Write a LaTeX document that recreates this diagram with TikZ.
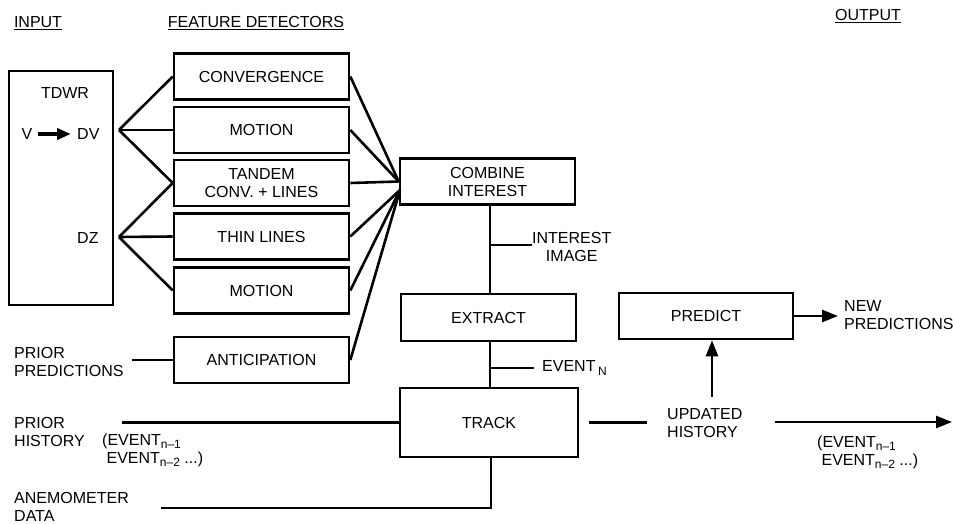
\documentclass[tikz,border=0pt]{standalone}
\usepackage{fontspec}
\setmainfont{Liberation Sans}
\usetikzlibrary{arrows.meta}
\newcommand{\evsub}[1]{\raisebox{-3.5pt}{\fontsize{12}{12}\selectfont #1}}

\begin{document}
\begin{tikzpicture}[x=1pt,y=-1pt,
		every node/.style={font=\fontsize{16}{18}\selectfont},
		blk/.style={draw,line width=2.6pt,minimum width=175pt,minimum height=46pt,align=center,inner sep=0pt},
		txt/.style={inner sep=0pt,align=left},
		wire/.style={line width=2.6pt},
		arr/.style={line width=2.6pt,-{Triangle[length=16pt,width=12pt]}}]
		\useasboundingbox (0,0) rectangle (953,524);
		% headings
		\node (hin) at (38,23) {\underline{INPUT}};
		\node (hfeat) at (256,23) {\underline{FEATURE DETECTORS}};
		\node (hout) at (868,16) {\underline{OUTPUT}};
		%
		\node[draw,line width=2.6pt,minimum width=104pt,minimum height=234pt] (tdwr) at (61,188) {};
		\node[txt] (tdwrlbl) at (65,93) {TDWR};
		\node[txt] (v) at (27,134) {V};
		\node[txt,anchor=west] (dv) at (77,134) {DV};
		\node[txt,anchor=west] (dz) at (77,238) {DZ};
		\draw [line width=3.5pt,-{Triangle[length=14pt,width=11pt]},shorten <=5pt,shorten >=6pt] (v.east) to (dv.west);
		\coordinate (fv) at (119,130);
		\coordinate (fz) at (119,237);
		%
		\node[blk] (conv) at (261.5,76.5) {CONVERGENCE};
		\node[blk] (motA) at (261.5,130) {MOTION};
		\node[blk] (tandem) at (261.5,183) {TANDEM\\CONV. + LINES};
		\node[blk] (thin) at (261.5,236.5) {THIN LINES};
		\node[blk] (motB) at (261.5,290.5) {MOTION};
		\node[blk] (antic) at (261.5,360) {ANTICIPATION};
		%
		\draw [wire] (fv) to (conv.west);
		\draw [wire] (fv) to (motA.west);
		\draw [wire] (fv) to (tandem.west);
		\draw [wire] (fz) to (tandem.west);
		\draw [wire] (fz) to (thin.west);
		\draw [wire] (fz) to (motB.west);
		%
		\node[txt,anchor=west] (ppred) at (14,362) {PRIOR\\PREDICTIONS};
		\draw [wire,shorten <=8pt] (ppred.east |- antic.west) to (antic.west);
		%
		\node[blk] (combine) at (487.5,181.5) {COMBINE\\INTEREST};
		\coordinate (cin) at (400,190);
		\draw [wire] (conv.east) to (combine.west);
		\draw [wire] (motA.east) to (combine.west);
		\draw [wire] (tandem.east) to (combine.west);
		\draw [wire] (thin.east) to (cin);
		\draw [wire] (motB.east) to (cin);
		\draw [wire] (antic.east) to (cin);
		%
		\node[blk,minimum height=47pt] (extract) at (488.5,317.5) {EXTRACT};
		\node[blk,minimum width=178pt,minimum height=69pt] (track) at (489,422.5) {TRACK};
		\draw [wire] (combine.south -| 490,0) to (extract.north -| 490,0);
		\draw [wire] (extract.south -| 490,0) to (track.north -| 490,0);
		\coordinate (ii) at (490,245);
		\node[txt,align=center,anchor=west] (iimg) at (532,247) {INTEREST\\IMAGE};
		\draw [wire] (ii) to (iimg.west |- ii);
		\coordinate (ev) at (490,368);
		\node[txt,anchor=west] (evn) at (542,368) {EVENT\,\evsub{N}};
		\draw [wire,shorten >=8pt] (ev) to (evn.west |- ev);
		%
		\node[txt,anchor=west] (phist) at (14,432) {PRIOR\\HISTORY};
		\node[txt,anchor=west] (pev) at (102,450) {(EVENT\evsub{n--1}\\\ EVENT\evsub{n--2} ...)};
		\draw [wire,shorten <=37pt] (phist.east |- track.west) to (track.west);
		\node[txt,anchor=west] (anem) at (14,507) {ANEMOMETER\\DATA};
		\coordinate (acorner) at (491,508);
		\draw [wire,shorten <=32pt] (anem.east |- acorner) to (acorner) to (acorner |- track.south);
		%
		\node[txt,anchor=west] (upd) at (667,423) {UPDATED\\HISTORY};
		\draw [wire,shorten <=10pt,shorten >=20pt] (track.east) to (track.east -| upd.west);
		\coordinate (hend) at (952,422);
		\draw [arr,shorten <=32pt] (upd.east |- hend) to (hend);
		\node[txt,anchor=west] (uev) at (817,452) {(EVENT\evsub{n--1}\\\ EVENT\evsub{n--2} ...)};
		%
		\node[blk,minimum width=174pt] (predict) at (706,316) {PREDICT};
		\coordinate (uarr) at (712,397);
		\draw [arr] (uarr) to (uarr |- predict.south);
		\node[txt,anchor=west] (newp) at (844,315) {NEW\\PREDICTIONS};
		\draw [arr,shorten >=6pt] (predict.east) to (predict.east -| newp.west);
	\end{tikzpicture}
\end{document}
